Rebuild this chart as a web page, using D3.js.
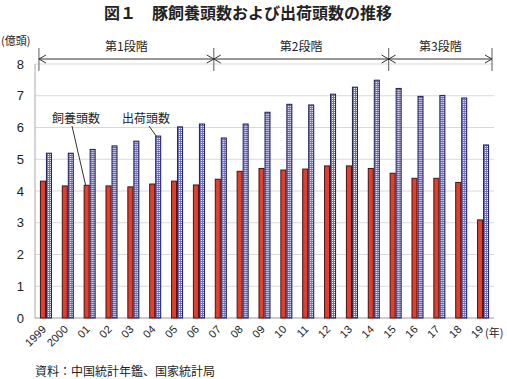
<!DOCTYPE html>
<html>
<head>
<meta charset="utf-8">
<script src="https://cdn.jsdelivr.net/npm/d3@7"></script>
<style>
  body { margin: 0; background: #fff; }
  svg { display: block; }
  text { font-family: "Liberation Sans", Arial, sans-serif; fill: #222; }
  .jp { font-family: "Noto Sans CJK JP", sans-serif; }
</style>
</head>
<body>
<div id="chart"></div>
<script>
// data
var years = ["1999","2000","01","02","03","04","05","06","07","08","09","10","11","12","13","14","15","16","17","18","19"];
var breeding = [4.31,4.16,4.18,4.16,4.13,4.22,4.31,4.19,4.37,4.62,4.71,4.66,4.69,4.79,4.79,4.71,4.56,4.40,4.40,4.27,3.09];
var shipped  = [5.19,5.19,5.31,5.42,5.57,5.73,6.02,6.11,5.67,6.11,6.48,6.73,6.71,7.05,7.27,7.49,7.23,6.98,7.01,6.93,5.45];
var yTicks = [0,1,2,3,4,5,6,7,8];
var stages = [
  {label: "第1段階", from: "1999", to: "07"},
  {label: "第2段階", from: "07", to: "15"},
  {label: "第3段階", from: "15", to: null}
];

var W = 507, H = 379;
var margin = {left: 35, right: 13, top: 64, bottom: 61};

var svg = d3.select("#chart").append("svg")
    .attr("width", W).attr("height", H);

var defs = svg.append("defs");
var pat = defs.append("pattern")
    .attr("id", "check")
    .attr("width", 2).attr("height", 2)
    .attr("patternUnits", "userSpaceOnUse");
pat.append("rect").attr("width", 2).attr("height", 2).attr("fill", "#6e6ec0");
pat.append("rect").attr("width", 1).attr("height", 1).attr("fill", "#ffffff");

var x = d3.scaleBand()
    .domain(years)
    .range([margin.left, W - margin.right])
    .paddingInner(0.45)
    .paddingOuter(0.225);

var xs = d3.scaleBand()
    .domain(["breeding", "shipped"])
    .range([0, x.bandwidth()]);

var y = d3.scaleLinear()
    .domain([0, 8])
    .range([H - margin.bottom, margin.top]);

// gridlines
svg.append("g")
    .selectAll("line")
    .data(yTicks.filter(function(d) { return d > 0; }))
    .enter().append("line")
    .attr("x1", margin.left).attr("x2", W - margin.right)
    .attr("y1", function(d) { return y(d); })
    .attr("y2", function(d) { return y(d); })
    .attr("stroke", "#d9d9d9").attr("stroke-width", 1);

// axes lines
svg.append("line")
    .attr("x1", margin.left).attr("x2", margin.left)
    .attr("y1", y(8)).attr("y2", y(0))
    .attr("stroke", "#aaa");
svg.append("line")
    .attr("x1", margin.left).attr("x2", W - margin.right)
    .attr("y1", y(0)).attr("y2", y(0))
    .attr("stroke", "#999");

// y labels
svg.append("g")
    .selectAll("text")
    .data(yTicks)
    .enter().append("text")
    .attr("x", 24)
    .attr("y", function(d) { return y(d); })
    .attr("dy", "0.36em")
    .attr("text-anchor", "end")
    .style("font-size", "13px")
    .text(function(d) { return d; });

svg.append("text")
    .attr("class", "jp")
    .attr("x", 1).attr("y", 45)
    .style("font-size", "11px")
    .text("(億頭)");

// bars
var groups = svg.append("g")
    .selectAll("g")
    .data(years)
    .enter().append("g")
    .attr("transform", function(d) { return "translate(" + x(d) + ",0)"; });

groups.append("rect")
    .attr("x", xs("breeding") + 0.5)
    .attr("y", function(d, i) { return y(breeding[i]); })
    .attr("width", xs.bandwidth() - 1)
    .attr("height", function(d, i) { return y(0) - y(breeding[i]); })
    .attr("fill", "#e0402c")
    .attr("stroke", "#4a1010")
    .attr("stroke-width", 1);

groups.append("rect")
    .attr("x", xs("shipped") + 0.5)
    .attr("y", function(d, i) { return y(shipped[i]); })
    .attr("width", xs.bandwidth() - 1)
    .attr("height", function(d, i) { return y(0) - y(shipped[i]); })
    .attr("fill", "url(#check)")
    .attr("stroke", "#1c1c5c")
    .attr("stroke-width", 1);

// x labels
svg.append("g")
    .selectAll("text")
    .data(years)
    .enter().append("text")
    .attr("transform", function(d) {
        return "translate(" + (x(d) + x.bandwidth() / 2 + 1) + "," + (y(0) + 12) + ") rotate(-45)";
    })
    .attr("text-anchor", "end")
    .style("font-size", "11px")
    .text(function(d) { return d; });

svg.append("text")
    .attr("class", "jp")
    .attr("x", 485).attr("y", 337)
    .style("font-size", "11px")
    .text("(年)");

// stage arrows
var lineY = 59;
var bx = function(yr) { return yr ? x(yr) - 1 : W - margin.right - 2; };
var stageG = svg.append("g");
var bounds = [bx("1999"), bx("07"), bx("15"), bx(null)];
bounds.forEach(function(b) {
    stageG.append("line")
        .attr("x1", b).attr("x2", b)
        .attr("y1", 48).attr("y2", 71)
        .attr("stroke", "#777").attr("stroke-width", 1.2);
});
stages.forEach(function(s) {
    var a = bx(s.from), b = bx(s.to);
    stageG.append("line")
        .attr("x1", a).attr("x2", b)
        .attr("y1", lineY).attr("y2", lineY)
        .attr("stroke", "#333").attr("stroke-width", 1);
    stageG.append("path")
        .attr("d", "M" + (a + 7) + "," + (lineY - 4) + "L" + a + "," + lineY + "L" + (a + 7) + "," + (lineY + 4))
        .attr("fill", "none").attr("stroke", "#333");
    stageG.append("path")
        .attr("d", "M" + (b - 7) + "," + (lineY - 4) + "L" + b + "," + lineY + "L" + (b - 7) + "," + (lineY + 4))
        .attr("fill", "none").attr("stroke", "#333");
    stageG.append("text")
        .attr("class", "jp")
        .attr("x", (a + b) / 2).attr("y", 51)
        .attr("text-anchor", "middle")
        .style("font-size", "12px")
        .text(s.label);
});

// annotations
svg.append("text").attr("class", "jp")
    .attr("x", 52).attr("y", 123)
    .style("font-size", "12px")
    .text("飼養頭数");
svg.append("line")
    .attr("x1", 72).attr("y1", 126)
    .attr("x2", x("01") + xs("breeding") + 2).attr("y2", y(breeding[2]))
    .attr("stroke", "#333");

svg.append("text").attr("class", "jp")
    .attr("x", 122).attr("y", 123)
    .style("font-size", "12px")
    .text("出荷頭数");
svg.append("line")
    .attr("x1", 149).attr("y1", 126)
    .attr("x2", x("04") + xs("shipped") + 1).attr("y2", y(shipped[5]))
    .attr("stroke", "#333");

// title
svg.append("text").attr("class", "jp")
    .attr("x", 248).attr("y", 19)
    .attr("text-anchor", "middle")
    .style("font-size", "16px")
    .style("font-weight", "bold")
    .text("図１　豚飼養頭数および出荷頭数の推移");

// source
svg.append("text").attr("class", "jp")
    .attr("x", 35).attr("y", 376)
    .style("font-size", "12px")
    .text("資料：中国統計年鑑、国家統計局");
</script>
</body>
</html>
